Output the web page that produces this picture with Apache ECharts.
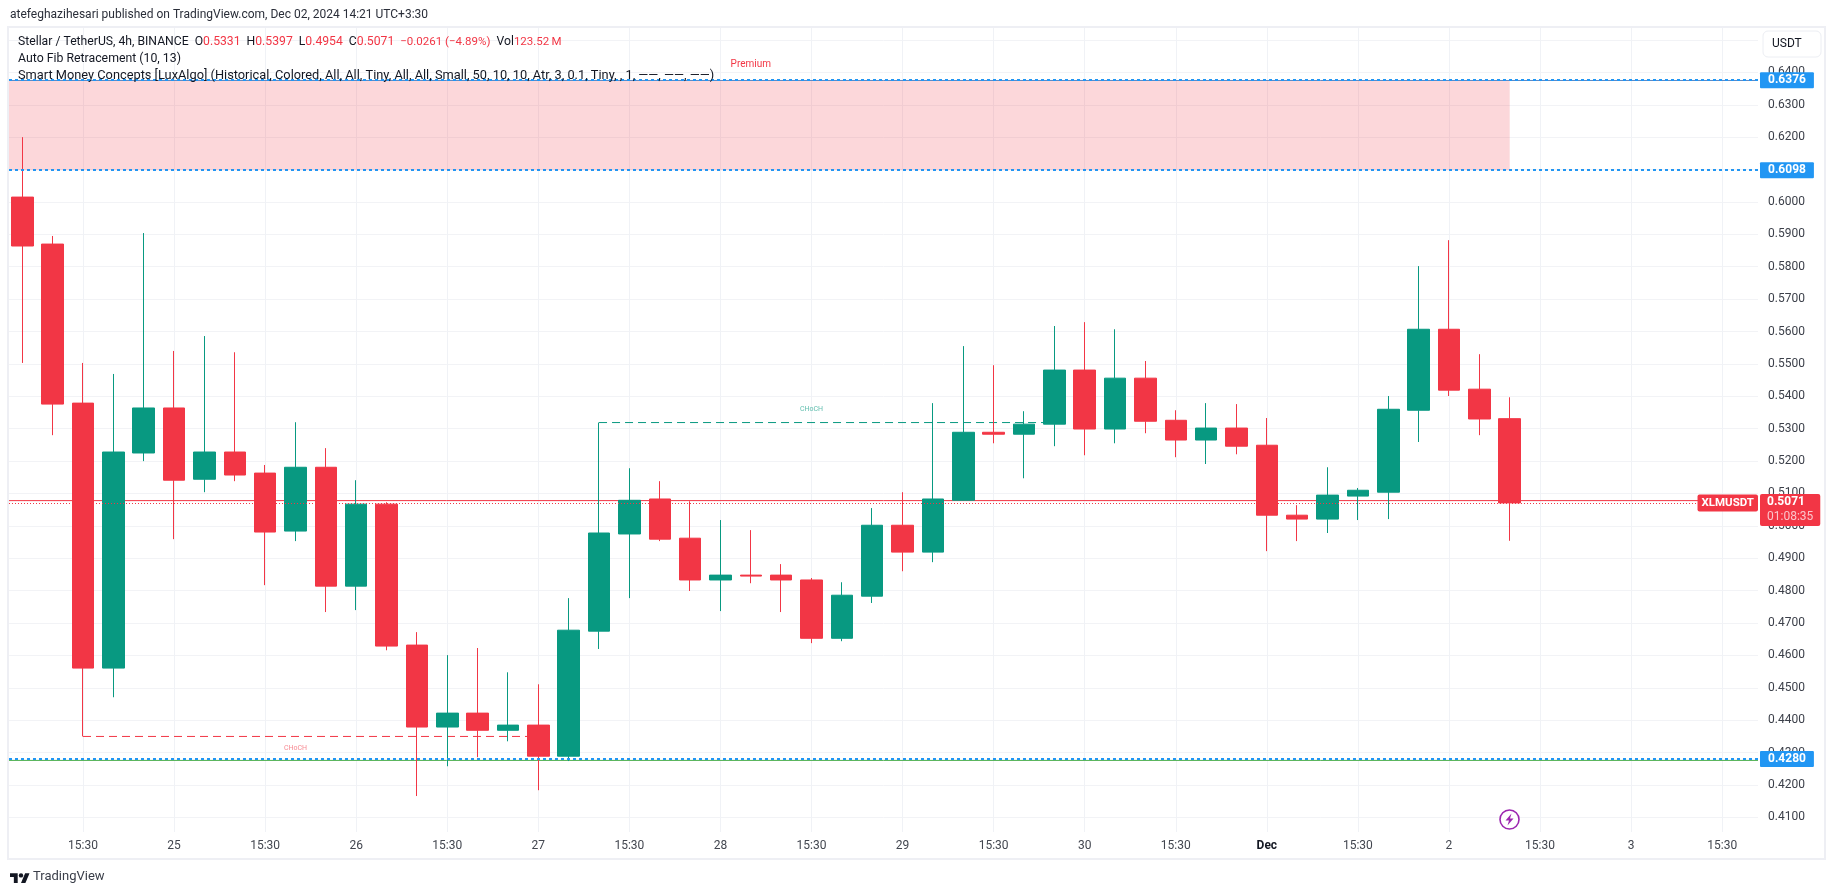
<!DOCTYPE html>
<html><head><meta charset="utf-8">
<style>html,body{margin:0;padding:0;background:#fff;overflow:hidden}#c{width:1835px;height:895px}</style>
<script src="https://cdn.jsdelivr.net/npm/echarts@6/dist/echarts.min.js"></script>
</head><body><div id="c"></div>
<script>
const opens =[.6015,.5870,.5379,.4561,.5225,.5364,.5144,.5228,.5163,.4984,.5181,.4814,.5067,.4632,.4379,.4422,.4369,.4385,.4289,.4675,.4975,.5083,.4962,.4833,.4848,.4848,.4833,.4653,.4783,.5002,.4919,.5079,.5289,.5283,.5314,.5481,.5299,.5456,.5326,.5265,.5302,.5249,.5033,.5021,.5092,.5104,.5357,.5607,.5422,.5331];
const closes=[.5864,.5376,.4561,.5228,.5364,.5141,.5228,.5157,.4981,.5181,.4814,.5067,.4629,.4379,.4422,.4369,.4385,.4289,.4678,.4978,.5079,.4959,.4833,.4848,.4845,.4833,.4653,.4786,.5002,.4919,.5083,.5289,.5283,.5314,.5481,.5299,.5456,.5323,.5265,.5302,.5246,.5033,.5021,.5095,.5110,.5360,.5607,.5419,.5330,.5071];
const lows  =[.5503,.5280,.4350,.4471,.5200,.4959,.5104,.5138,.4817,.4953,.4734,.4740,.4616,.4166,.4258,.4286,.4335,.4184,.4274,.4620,.4777,.4953,.4799,.4737,.4823,.4734,.4638,.4644,.4762,.4860,.4888,.5079,.5255,.5147,.5246,.5218,.5255,.5286,.5212,.5191,.5221,.4922,.4953,.4978,.5018,.5021,.5259,.5401,.5280,.4954];
const highs =[.6200,.5895,.5503,.5469,.5904,.5540,.5586,.5536,.5188,.5320,.5240,.5141,.5073,.4672,.4601,.4623,.4548,.4511,.4777,.5319,.5178,.5138,.5076,.5018,.4987,.4882,.4839,.4826,.5055,.5104,.5379,.5555,.5496,.5354,.5617,.5629,.5607,.5509,.5357,.5379,.5376,.5333,.5064,.5181,.5117,.5401,.5802,.5882,.5530,.5397];
const timeLabels=['15:30','25','15:30','26','15:30','27','15:30','28','15:30','29','15:30','30','15:30','Dec','15:30','2','15:30','3','15:30'];
const xMin=0.562, xMax=58.18, yMin=0.4055, yMax=0.6537;
const fibBlue=[0.6376,0.6098,0.4280];
const lastPrice=0.5071, fibRed=0.5078, fibGreen=0.4276, fibTop=0.6375;
const UP='#089981', DOWN='#F23645', BLUE='#2196F3', FONT='Roboto, sans-serif';
const candles=opens.map((o,i)=>[i+1,o,closes[i],lows[i],highs[i]]);
const under=(name,y,color,x0,x1,type,z)=>({type:'line',name,data:[[x0,y],[x1,y]],showSymbol:false,silent:true,z:z||1,
  lineStyle:{color,width:1,type:type||'solid'}});
const tag=(v)=>({yAxis:v,lineStyle:{color:BLUE,width:2,type:[3,3]},
  label:{show:true,position:'end',distance:2,formatter:v.toFixed(4),backgroundColor:BLUE,color:'#fff',fontFamily:FONT,fontSize:12,fontWeight:'bold',padding:[2,8,2,8],borderRadius:1}});
const chart=echarts.init(document.getElementById('c'),null,{renderer:'canvas'});
chart.setOption({
  animation:false,backgroundColor:'#fff',
  grid:{left:9,top:28,right:77,bottom:63},
  xAxis:{type:'value',min:xMin,max:xMax,splitNumber:19,
    axisLine:{show:false},axisTick:{show:false},
    splitLine:{show:true,showMinLine:false,showMaxLine:false,lineStyle:{color:'#F0F2F6',width:1}},
    axisLabel:{color:'#42464f',fontFamily:FONT,fontSize:12,margin:8,showMinLabel:false,showMaxLabel:false,hideOverlap:false,
      rich:{m:{color:'#131722',fontFamily:FONT,fontSize:12,fontWeight:'bold'}},
      formatter:v=>{const k=v/3-1;if(!Number.isInteger(k)||timeLabels[k]===undefined)return '';return timeLabels[k]==='Dec'?'{m|Dec}':timeLabels[k];}}},
  yAxis:{type:'value',position:'right',min:yMin,max:yMax,splitNumber:25,scale:true,
    axisLine:{show:false},axisTick:{show:false},
    splitLine:{show:true,showMinLine:false,showMaxLine:false,lineStyle:{color:'#F2F3F6',width:1}},
    axisLabel:{color:'#3c404a',fontFamily:FONT,fontSize:12,margin:10,showMinLabel:false,showMaxLabel:false,formatter:v=>v.toFixed(4)}},
  series:[
    under('fib-red',fibRed,DOWN,xMin,xMax),
    under('fib-green',fibGreen,'#4CAF50',xMin,xMax),
    under('fib-top',fibTop,'#5B86C4',xMin,xMax),
    under('choch-down',lows[2],DOWN,3,18,[8,5]),
    under('choch-up',highs[19],UP,20,35,[8,5]),
    {type:'candlestick',name:'XLMUSDT',data:candles,barWidth:22,z:2,silent:true,
      itemStyle:{color:UP,color0:DOWN,borderColor:UP,borderColor0:DOWN,borderWidth:1},
      markArea:{silent:true,z:1,itemStyle:{color:'rgba(242,54,69,0.2)'},
        data:[[{coord:[xMin,fibBlue[0]]},{coord:[50,fibBlue[1]]}]]}},
    {type:'line',name:'levels',data:[[xMin,lastPrice],[xMax,lastPrice]],showSymbol:false,silent:true,z:5,lineStyle:{opacity:0},
      markLine:{silent:true,symbol:'none',z:5,animation:false,precision:4,
        data:[tag(fibBlue[0]),tag(fibBlue[1]),tag(fibBlue[2]),
          {yAxis:lastPrice,lineStyle:{color:DOWN,width:1,type:[1,2]},
           label:{show:true,position:'end',distance:2,offset:[0,7],
             formatter:'{a|'+lastPrice.toFixed(4)+'}\n{b|01:08:35}',backgroundColor:DOWN,padding:[1,7,1,7],borderRadius:2,
             rich:{a:{color:'#fff',fontFamily:FONT,fontSize:12,fontWeight:'bold',lineHeight:15},b:{color:'#FBC4CA',fontFamily:FONT,fontSize:12,lineHeight:15}}}}]},
      markPoint:{silent:true,symbol:'circle',symbolSize:0,z:6,
        data:[
          {coord:[25,0.6424],value:'Premium',label:{show:true,formatter:'Premium',position:'inside',color:DOWN,fontFamily:FONT,fontSize:10}},
          {coord:[27,0.5360],value:'CHoCH',label:{show:true,formatter:'CHoCH',position:'inside',color:'rgba(8,153,129,0.65)',fontFamily:FONT,fontSize:7}},
          {coord:[10,0.4312],value:'CHoCH',label:{show:true,formatter:'CHoCH',position:'inside',color:'rgba(242,54,69,0.6)',fontFamily:FONT,fontSize:7}},
          {coord:[xMax,lastPrice],value:'XLMUSDT',label:{show:true,formatter:'XLMUSDT',position:'left',distance:0,backgroundColor:DOWN,color:'#fff',fontFamily:FONT,fontSize:11.5,fontWeight:'bold',padding:[3,4,2,4],borderRadius:2}}
        ]}}
  ],
  graphic:[
    {type:'rect',z:50,silent:true,shape:{x:8,y:27,width:1817,height:832},style:{fill:'none',stroke:'#EEEFF4',lineWidth:2}},
    {type:'rect',z:60,silent:true,shape:{x:1763,y:31,width:58,height:26,r:5},style:{fill:'#fff',stroke:'#ECEEF3',lineWidth:1}},
    {type:'text',z:61,silent:true,x:1772,y:44,style:{text:'USDT',fill:'#131722',font:'12px '+FONT,verticalAlign:'middle'}},
    {type:'text',z:61,silent:true,x:10,y:15,style:{text:'atefeghazihesari published on TradingView.com, Dec 02, 2024 14:21 UTC+3:30',fill:'#2a2e39',font:'12px '+FONT,verticalAlign:'middle'}},
    {type:'text',z:61,silent:true,x:18,y:42,style:{verticalAlign:'middle',font:'12.2px '+FONT,fill:'#131722',
      text:'Stellar / TetherUS, 4h, BINANCE  O{r|0.5331}  H{r|0.5397}  L{r|0.4954}  C{r|0.5071}  {s|\u22120.0261 (\u22124.89%)}  Vol{s|123.52\u2009M}',
      rich:{r:{fill:DOWN,font:'12.2px '+FONT},s:{fill:DOWN,font:'11.5px '+FONT}}}},
    {type:'text',z:61,silent:true,x:18,y:59,style:{text:'Auto Fib Retracement (10, 13)',fill:'#131722',font:'12.3px '+FONT,verticalAlign:'middle'}},
    {type:'text',z:61,silent:true,x:18,y:76,style:{text:'Smart Money Concepts [LuxAlgo] (Historical, Colored, All, All, Tiny, All, All, Small, 50, 10, 10, Atr, 3, 0.1, Tiny, , 1, \u2014\u2014, \u2014\u2014, \u2014\u2014)',fill:'#131722',font:'12.8px '+FONT,verticalAlign:'middle'}},
    {type:'group',z:61,silent:true,x:10,y:871,scaleX:0.55,scaleY:0.55,children:[
      {type:'polygon',z:61,shape:{points:[[0,4],[14,4],[14,22],[7,22],[7,11],[0,11]]},style:{fill:'#131722'}},
      {type:'polygon',z:61,shape:{points:[[28,22],[20,22],[27.5,4],[35.5,4]]},style:{fill:'#131722'}},
      {type:'circle',z:61,shape:{cx:20,cy:8,r:4},style:{fill:'#131722'}}]},
    {type:'text',z:61,silent:true,x:33,y:877,style:{text:'TradingView',fill:'#3a3e49',font:'13px '+FONT,verticalAlign:'middle'}},
    {type:'circle',z:61,silent:true,shape:{cx:1509.5,cy:819.5,r:9.5},style:{fill:'#fff',stroke:'#9C27B0',lineWidth:1.6}},
    {type:'polygon',z:62,silent:true,shape:{points:[[1511.5,813.5],[1505.5,820.5],[1509,820.5],[1507.5,825.5],[1513.5,818.5],[1510,818.5]]},style:{fill:'#9C27B0'}}
  ]
});
</script></body></html>
